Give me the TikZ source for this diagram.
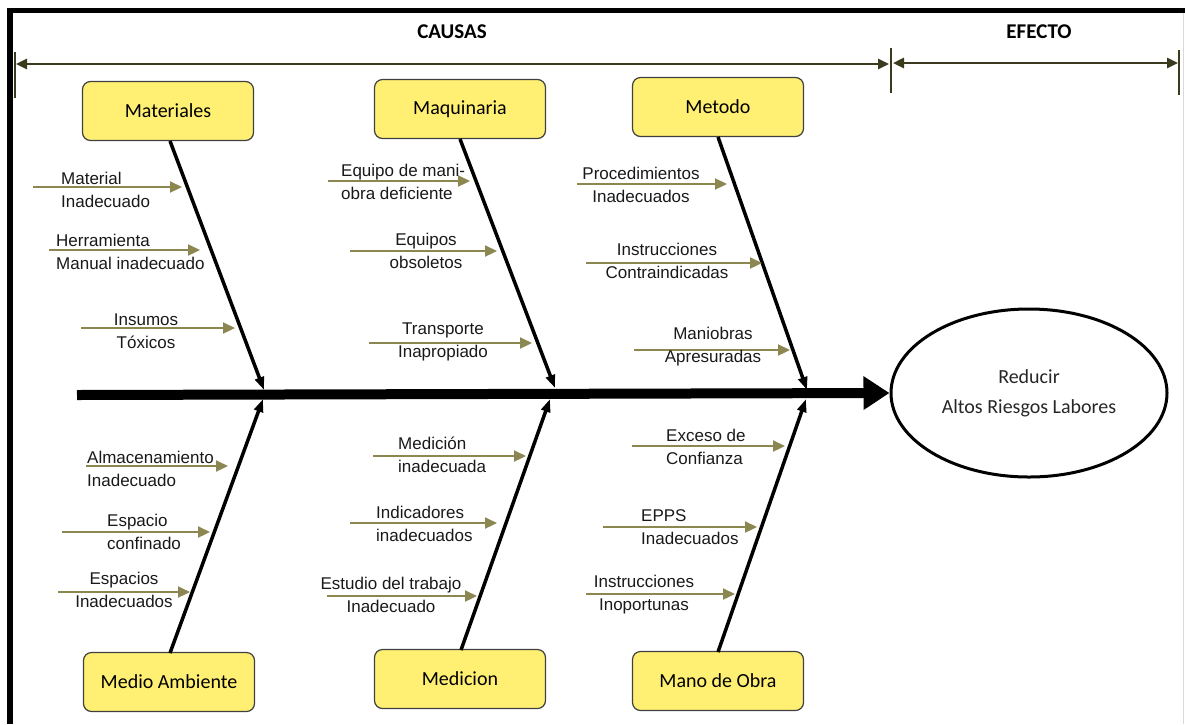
\documentclass[tikz,border=0pt]{standalone}
\usepackage{fontspec}
\usetikzlibrary{arrows.meta,shapes.geometric}
\newfontfamily\labfont{Liberation Sans}
\newfontfamily\calfont{Carlito}
\definecolor{yellowc}{RGB}{255,240,115}
\definecolor{olivec}{RGB}{140,135,80}
\definecolor{dimc}{RGB}{60,58,30}
\begin{document}
\begin{tikzpicture}[x=1pt,y=-1pt,
  box/.style={draw=black!75,fill=yellowc,rounded corners=8pt,line width=1.2pt,minimum width=171pt,minimum height=59pt,inner sep=0pt,font=\calfont\fontsize{20}{24}\selectfont},
  lbl/.style={inner sep=0pt,font=\labfont\fontsize{17}{23}\selectfont,text=black!90},
  sarr/.style={draw=olivec,line width=2.2pt,-{Triangle[length=12pt,width=11pt]}},
  bone/.style={draw=black,line width=3.5pt,-{Triangle[length=13pt,width=9pt]}},
  dimline/.style={draw=dimc,line width=2.5pt},
  dimarr/.style={dimline,{Triangle[length=11pt,width=10pt]}-{Triangle[length=11pt,width=10pt]}},
  head/.style={inner sep=0pt,font=\calfont\bfseries\fontsize{21}{24}\selectfont}]
\useasboundingbox (0,0) rectangle (1185,724);
% frame
\draw[line width=5.5pt] (10,724) -- (10,10.5) -- (1185,10.5);
\draw[black!15,line width=1pt] (1183.5,13) -- (1183.5,724);
% headers
\node[head] (causas) at (452,32) {CAUSAS};
\node[head] (efecto) at (1039,32) {EFECTO};
% dimension lines
\coordinate (d1a) at (15,52); \coordinate (d1b) at (15,98);
\coordinate (d2a) at (891,48); \coordinate (d2b) at (891,93);
\coordinate (d3a) at (1179,50); \coordinate (d3b) at (1179,95);
\draw[dimline] (d1a) -- (d1b);
\draw[dimline] (d2a) -- (d2b);
\draw[dimline] (d3a) -- (d3b);
\coordinate (l1) at (16,64); \coordinate (r1) at (889,64);
\coordinate (l2) at (893,63); \coordinate (r2) at (1178,63);
\draw[dimarr] (l1) -- (r1);
\draw[dimarr] (l2) -- (r2);
% boxes
\node[box] (mat) at (168,111) {Materiales};
\node[box] (maq) at (460,109) {Maquinaria};
\node[box] (met) at (718,107) {Metodo};
\node[box] (med) at (169,682) {Medio Ambiente};
\node[box] (mcn) at (460,679) {Medicion};
\node[box] (mob) at (718,681) {Mano de Obra};
% effect
\node[draw,ellipse,line width=3pt,minimum width=276pt,minimum height=168pt,inner sep=0pt,align=center,font=\calfont\fontsize{20}{30}\selectfont,text=black!85] (eff) at (1029,393) {Reducir\\Altos Riesgos Labores};
% spine
\coordinate (sp) at (77,395);
\draw[line width=10pt,-{Triangle[length=26pt,width=32pt]}] (sp) -- (eff.west);
% bones
\coordinate (tA) at (264,390); \coordinate (tB) at (555,388); \coordinate (tC) at (807,390);
\coordinate (tD) at (263,399); \coordinate (tE) at (550,399); \coordinate (tF) at (806,399);
\coordinate (bA) at (170,141); \coordinate (bB) at (460,139); \coordinate (bC) at (718,137);
\coordinate (bD) at (170,653); \coordinate (bE) at (461,650); \coordinate (bF) at (718,652);
\draw[bone] (bA) -- (tA);
\draw[bone] (bB) -- (tB);
\draw[bone] (bC) -- (tC);
\draw[bone] (bD) -- (tD);
\draw[bone] (bE) -- (tE);
\draw[bone] (bF) -- (tF);
% small arrows
\foreach \n/\xa/\xb/\yy in {m1/33/182/187, m2/49/200/250, m3/81/235/328,
  q1/328/470/181, q2/350/497/251, q3/369/532/343,
  t1/577/727/184, t2/586/762/263, t3/634/790/350,
  a1/86/228/466, a2/62/210/532, a3/58/190/592,
  c1/373/526/456, c2/350/497/523, c3/327/477/596,
  o1/632/785/446, o2/603/757/527, o3/586/735/594}{
  \coordinate (\n s) at (\xa,\yy);
  \coordinate (\n e) at (\xb,\yy);
  \draw[sarr] (\n s) -- (\n e);
}
% labels
\node[lbl,align=left,anchor=west] (lm1) at (61,190) {Material\\Inadecuado};
\node[lbl,align=left,anchor=west] (lm2) at (56,252) {Herramienta\\Manual inadecuado};
\node[lbl,align=center] (lm3) at (146,331) {Insumos\\Tóxicos};
\node[lbl,align=left,anchor=west] (lq1) at (341,182) {Equipo de mani-\\obra deficiente};
\node[lbl,align=center] (lq2) at (426,251) {Equipos\\obsoletos};
\node[lbl,align=center] (lq3) at (443,342) {Transporte\\Inapropiado};
\node[lbl,align=center] (lt1) at (641,185) {Procedimientos\\Inadecuados};
\node[lbl,align=center] (lt2) at (667,261) {Instrucciones\\Contraindicadas};
\node[lbl,align=center] (lt3) at (713,347) {Maniobras\\Apresuradas};
\node[lbl,align=left,anchor=west] (la1) at (87,469) {Almacenamiento\\Inadecuado};
\node[lbl,align=left,anchor=west] (la2) at (107,532) {Espacio\\confinado};
\node[lbl,align=center] (la3) at (124,590) {Espacios\\Inadecuados};
\node[lbl,align=left,anchor=west] (lc1) at (398,455) {Medición\\inadecuada};
\node[lbl,align=left,anchor=west] (lc2) at (376,524) {Indicadores\\inadecuados};
\node[lbl,align=center] (lc3) at (391,595) {Estudio del trabajo\\Inadecuado};
\node[lbl,align=left,anchor=west] (lo1) at (666,447) {Exceso de\\Confianza};
\node[lbl,align=left,anchor=west] (lo2) at (641,527) {EPPS\\Inadecuados};
\node[lbl,align=center] (lo3) at (644,595) {Instrucciones\\Inoportunas};
\end{tikzpicture}
\end{document}
